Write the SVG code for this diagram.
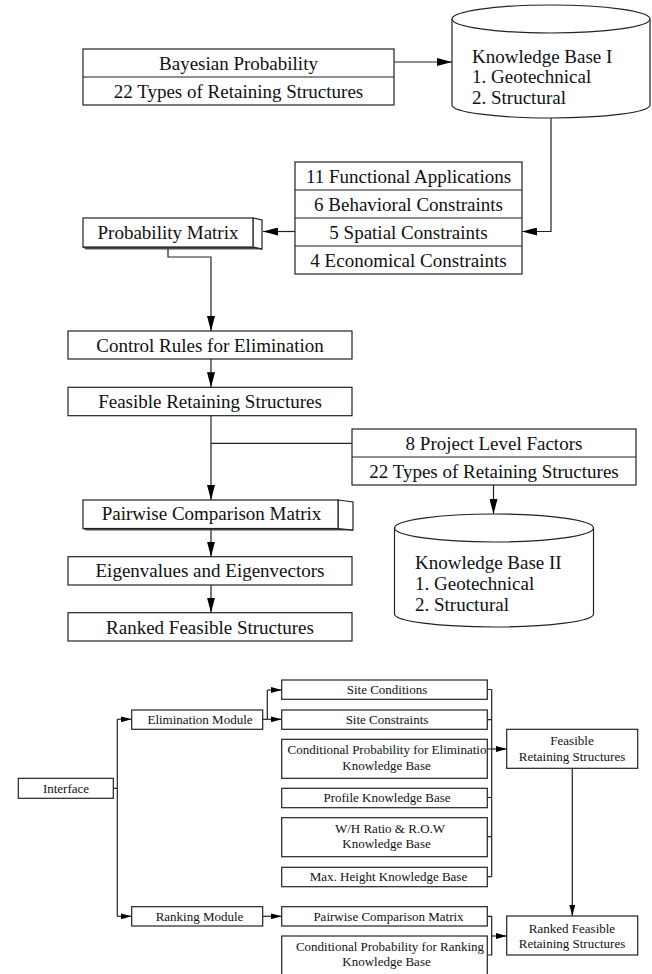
<svg xmlns="http://www.w3.org/2000/svg" width="652" height="974" viewBox="0 0 652 974">
<style>
.b{fill:#fff;stroke:#222;stroke-width:1.2}
.l{fill:none;stroke:#222;stroke-width:1.2}
.t{font-family:"Liberation Serif","Times New Roman",serif;font-size:19px;fill:#111;text-anchor:middle}
.s{font-family:"Liberation Serif","Times New Roman",serif;font-size:13px;fill:#111;text-anchor:middle}
.st{text-anchor:start}
.sh{fill:#666;stroke:#222;stroke-width:0.8}
</style>
<defs>
<marker id="a" markerUnits="userSpaceOnUse" markerWidth="15" markerHeight="8" refX="15" refY="4" orient="auto"><path d="M0,0 L15,4 L0,8 z" fill="#000"/></marker>
<marker id="m" markerUnits="userSpaceOnUse" markerWidth="11" markerHeight="6" refX="11" refY="3" orient="auto"><path d="M0,0 L11,3 L0,6 z" fill="#000"/></marker>
<clipPath id="c1"><rect x="281.7" y="739.3" width="205.6" height="39"/></clipPath>
</defs>
<rect width="652" height="974" fill="#fff"/>

<g id="connectors">
<line class="l" x1="394" y1="62" x2="452" y2="62" marker-end="url(#a)"/>
<path class="l" d="M551,118 V231.5 H522" marker-end="url(#a)"/>
<line class="l" x1="295" y1="231.5" x2="263" y2="231.5" marker-end="url(#a)"/>
<path class="l" d="M168,248.5 V257 H211 V331" marker-end="url(#a)"/>
<line class="l" x1="211" y1="359" x2="211" y2="387.3" marker-end="url(#a)"/>
<line class="l" x1="211" y1="415.7" x2="211" y2="500" marker-end="url(#a)"/>
<line class="l" x1="211" y1="443.3" x2="352" y2="443.3"/>
<line class="l" x1="493.5" y1="485" x2="493.5" y2="514" marker-end="url(#a)"/>
<line class="l" x1="211" y1="529" x2="211" y2="556.7" marker-end="url(#a)"/>
<line class="l" x1="211" y1="585" x2="211" y2="612.7" marker-end="url(#a)"/>

<line class="l" x1="113.3" y1="788.3" x2="117.3" y2="788.3"/>
<line class="l" x1="117.3" y1="719.3" x2="117.3" y2="916.3"/>
<line class="l" x1="117.3" y1="719.3" x2="131.7" y2="719.3" marker-end="url(#m)"/>
<line class="l" x1="117.3" y1="916.3" x2="131.7" y2="916.3" marker-end="url(#m)"/>
<line class="l" x1="262.7" y1="719.3" x2="267.3" y2="719.3"/>
<line class="l" x1="267.3" y1="690" x2="267.3" y2="719.3"/>
<line class="l" x1="267.3" y1="690" x2="281.7" y2="690" marker-end="url(#m)"/>
<line class="l" x1="267.3" y1="719.3" x2="281.7" y2="719.3" marker-end="url(#m)"/>
<line class="l" x1="262.7" y1="916.3" x2="281.7" y2="916.3" marker-end="url(#m)"/>
<path class="l" d="M487.3,689.5 H491.7 M487.3,719.7 H491.7 M487.3,749 H491.7 M487.3,797.5 H491.7 M487.3,836.7 H491.7 M487.3,876.7 H491.7 M491.7,689.5 V876.7"/>
<line class="l" x1="491.7" y1="749" x2="506.7" y2="749" marker-end="url(#m)"/>
<line class="l" x1="572.3" y1="768.3" x2="572.3" y2="916" marker-end="url(#m)"/>
<path class="l" d="M487.3,916.3 H491.7 V955 H487.3"/>
<line class="l" x1="491.7" y1="936" x2="506.7" y2="936" marker-end="url(#m)"/>
</g>

<g id="bayes">
<rect class="b" x="83" y="49" width="311" height="56"/>
<line class="l" x1="83" y1="77" x2="394" y2="77"/>
<text class="t" x="238.5" y="69.5">Bayesian Probability</text>
<text class="t" x="238.5" y="97.5">22 Types of Retaining Structures</text>
</g>

<g id="kb1">
<path class="b" d="M452,19 V105 A99,13 0 0 0 650,105 V19"/>
<ellipse class="b" cx="551" cy="19" rx="99" ry="14"/>
<text class="t st" x="472" y="62.5">Knowledge Base I</text>
<text class="t st" x="472" y="83">1. Geotechnical</text>
<text class="t st" x="472" y="103.5">2. Structural</text>
</g>

<g id="constraints">
<rect class="b" x="295" y="162" width="227" height="112"/>
<path class="l" d="M295,190 H522 M295,218 H522 M295,246 H522"/>
<text class="t" x="408.5" y="182.5">11 Functional Applications</text>
<text class="t" x="408.5" y="210.5">6 Behavioral Constraints</text>
<text class="t" x="408.5" y="238.5">5 Spatial Constraints</text>
<text class="t" x="408.5" y="266.5">4 Economical Constraints</text>
</g>

<g id="probmatrix">
<polygon class="sh" points="83,247 86,249 262,249 253,247"/>
<polygon class="b" points="253,218 262,220 262,249 253,247"/>
<rect class="b" x="83" y="218" width="170" height="29"/>
<text class="t" x="168" y="238.5">Probability Matrix</text>
</g>

<g id="control">
<rect class="b" x="68" y="331" width="284" height="28"/>
<text class="t" x="210" y="351.5">Control Rules for Elimination</text>
</g>

<g id="feasible">
<rect class="b" x="68" y="387.3" width="284" height="28.4"/>
<text class="t" x="210" y="408">Feasible Retaining Structures</text>
</g>

<g id="project">
<rect class="b" x="352" y="429" width="284" height="56"/>
<line class="l" x1="352" y1="457" x2="636" y2="457"/>
<text class="t" x="494" y="449.5">8 Project Level Factors</text>
<text class="t" x="494" y="477.5">22 Types of Retaining Structures</text>
</g>

<g id="kb2">
<path class="b" d="M394.5,528 V614 A99.5,13 0 0 0 593.5,614 V528"/>
<ellipse class="b" cx="494" cy="528" rx="99.5" ry="14"/>
<text class="t st" x="415" y="568.5">Knowledge Base II</text>
<text class="t st" x="415" y="590">1. Geotechnical</text>
<text class="t st" x="415" y="611">2. Structural</text>
</g>

<g id="pairwise">
<polygon class="sh" points="83,528.5 86,530 353,530 338,528.5"/>
<polygon class="b" points="338,500 353,502 353,530 338,528.5"/>
<rect class="b" x="83" y="500" width="255" height="28.5"/>
<text class="t" x="211.5" y="520">Pairwise Comparison Matrix</text>
</g>

<g id="eigen">
<rect class="b" x="68" y="556.7" width="284" height="28.3"/>
<text class="t" x="210" y="577">Eigenvalues and Eigenvectors</text>
</g>

<g id="rankedTop">
<rect class="b" x="68" y="612.7" width="284" height="28.3"/>
<text class="t" x="210" y="633.5">Ranked Feasible Structures</text>
</g>

<g id="interface">
<rect class="b" x="18.3" y="778.3" width="95" height="20"/>
<text class="s" x="66" y="792.5">Interface</text>
</g>

<g id="elimModule">
<rect class="b" x="131.7" y="710" width="131" height="19.3"/>
<text class="s" x="200" y="724">Elimination Module</text>
</g>

<g id="rankModule">
<rect class="b" x="131.7" y="906.7" width="131" height="19.3"/>
<text class="s" x="199.5" y="921">Ranking Module</text>
</g>

<g id="siteCond">
<rect class="b" x="281.7" y="680" width="205.6" height="19.3"/>
<text class="s" x="387" y="694">Site Conditions</text>
</g>

<g id="siteCons">
<rect class="b" x="281.7" y="710" width="205.6" height="19.3"/>
<text class="s" x="387" y="724">Site Constraints</text>
</g>

<g id="condElim">
<rect class="b" x="281.7" y="739.3" width="205.6" height="39"/>
<text class="s st" x="287.5" y="754" clip-path="url(#c1)">Conditional Probability for Elimination</text>
<text class="s" x="386.5" y="770">Knowledge Base</text>
</g>

<g id="profile">
<rect class="b" x="281.7" y="788.3" width="205.6" height="19.4"/>
<text class="s" x="387" y="802">Profile Knowledge Base</text>
</g>

<g id="whRatio">
<rect class="b" x="281.7" y="817.7" width="205.6" height="39"/>
<text class="s" x="390" y="833.3">W/H Ratio &amp; R.O.W</text>
<text class="s" x="386.5" y="848.3">Knowledge Base</text>
</g>

<g id="maxHeight">
<rect class="b" x="281.7" y="867.3" width="205.6" height="19.4"/>
<text class="s" x="388.5" y="881">Max. Height Knowledge Base</text>
</g>

<g id="pairwiseBottom">
<rect class="b" x="281.7" y="906.7" width="205.6" height="19.3"/>
<text class="s" x="388.5" y="920.5">Pairwise Comparison Matrix</text>
</g>

<g id="condRank">
<rect class="b" x="281.7" y="936" width="205.6" height="40"/>
<text class="s" x="390" y="951">Conditional Probability for Ranking</text>
<text class="s" x="386.5" y="966">Knowledge Base</text>
</g>

<g id="feasibleBottom">
<rect class="b" x="506.7" y="729.3" width="131" height="39"/>
<text class="s" x="572" y="745">Feasible</text>
<text class="s" x="572" y="761">Retaining Structures</text>
</g>

<g id="rankedBottom">
<rect class="b" x="506.7" y="916" width="131" height="39"/>
<text class="s" x="572" y="932.5">Ranked Feasible</text>
<text class="s" x="572" y="947.5">Retaining Structures</text>
</g>
</svg>
